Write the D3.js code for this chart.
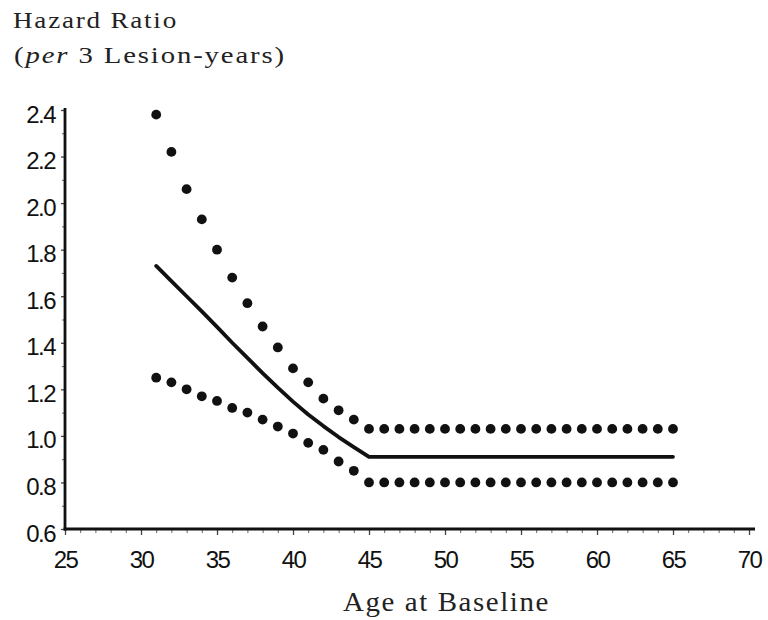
<!DOCTYPE html>
<html>
<head>
<meta charset="utf-8">
<script src="https://cdn.jsdelivr.net/npm/d3@7"></script>
<style>
  body { margin: 0; background: #fff; }
  svg { display: block; }
</style>
</head>
<body>
<div id="chart"></div>
<script>
// values
const ages = [31, 32, 33, 34, 35, 36, 37, 38, 39, 40, 41, 42, 43, 44, 45,
  46, 47, 48, 49, 50, 51, 52, 53, 54, 55, 56, 57, 58, 59, 60, 61, 62, 63, 64, 65];
const hazard = [1.73, 1.665, 1.60, 1.535, 1.468, 1.40, 1.335, 1.27, 1.207, 1.147, 1.092, 1.042, 0.995, 0.952, 0.91,
  0.91, 0.91, 0.91, 0.91, 0.91, 0.91, 0.91, 0.91, 0.91, 0.91, 0.91, 0.91, 0.91, 0.91, 0.91, 0.91, 0.91, 0.91, 0.91, 0.91];
const upper = [2.38, 2.22, 2.06, 1.93, 1.80, 1.68, 1.57, 1.47, 1.38, 1.29, 1.23, 1.16, 1.11, 1.07, 1.03,
  1.03, 1.03, 1.03, 1.03, 1.03, 1.03, 1.03, 1.03, 1.03, 1.03, 1.03, 1.03, 1.03, 1.03, 1.03, 1.03, 1.03, 1.03, 1.03, 1.03];
const lower = [1.25, 1.23, 1.20, 1.17, 1.15, 1.12, 1.10, 1.07, 1.04, 1.01, 0.97, 0.94, 0.89, 0.85, 0.80,
  0.80, 0.80, 0.80, 0.80, 0.80, 0.80, 0.80, 0.80, 0.80, 0.80, 0.80, 0.80, 0.80, 0.80, 0.80, 0.80, 0.80, 0.80, 0.80, 0.80];
const xTicks = [25, 30, 35, 40, 45, 50, 55, 60, 65, 70];
const yTicks = [0.6, 0.8, 1.0, 1.2, 1.4, 1.6, 1.8, 2.0, 2.2, 2.4];

const width = 768, height = 620;
const ink = '#111';

const svg = d3.select('#chart').append('svg')
  .attr('width', width)
  .attr('height', height);

const x = d3.scaleLinear().domain([25, 70]).range([65, 749]);
const y = d3.scaleLinear().domain([0.6, 2.4]).range([529, 110]);

// minor ticks (every year / every 0.1)
const xMinor = d3.range(25, 71, 1).filter(v => v % 5 !== 0);
const yMinor = d3.range(0.7, 2.4, 0.2);

svg.append('g')
  .attr('transform', `translate(0,${y(0.6)})`)
  .call(d3.axisBottom(x).tickValues(xMinor).tickSize(4).tickFormat(''))
  .call(g => g.select('.domain').remove())
  .call(g => g.selectAll('line').attr('stroke', '#666').attr('stroke-width', 1));

svg.append('g')
  .attr('transform', `translate(${x(25)},0)`)
  .call(d3.axisLeft(y).tickValues(yMinor).tickSize(3).tickFormat(''))
  .call(g => g.select('.domain').remove())
  .call(g => g.selectAll('line').attr('stroke', '#666').attr('stroke-width', 1));

const sans = '"Liberation Sans", Arial, sans-serif';

// x axis
const xAxis = svg.append('g')
  .attr('transform', `translate(0,${y(0.6)})`)
  .call(d3.axisBottom(x).tickValues(xTicks).tickSize(6).tickPadding(16).tickFormat(d3.format('d')));
xAxis.select('.domain').remove();
xAxis.selectAll('line').attr('stroke', '#444').attr('stroke-width', 1.3);
xAxis.selectAll('text')
  .attr('fill', ink)
  .style('font-family', sans)
  .style('font-size', '24px')
  .style('letter-spacing', '-1.5px');
xAxis.append('line')
  .attr('x1', x(25) - 1.4).attr('x2', 755)
  .attr('stroke', ink).attr('stroke-width', 2.8);

// y axis
const yAxis = svg.append('g')
  .attr('transform', `translate(${x(25)},0)`)
  .call(d3.axisLeft(y).tickValues(yTicks).tickSize(4).tickPadding(6).tickFormat(d3.format('.1f')));
yAxis.select('.domain').remove();
yAxis.selectAll('line').attr('stroke', '#444').attr('stroke-width', 1.3);
yAxis.selectAll('text')
  .attr('fill', ink)
  .attr('dy', '0.5em')
  .style('font-family', sans)
  .style('font-size', '24px')
  .style('letter-spacing', '-1.5px');
yAxis.append('line')
  .attr('y1', y(2.4) - 2).attr('y2', y(0.6) + 1.4)
  .attr('stroke', ink).attr('stroke-width', 2.8);

// estimate line
const rows = ages.map((a, i) => ({age: a, hr: hazard[i], hi: upper[i], lo: lower[i]}));

svg.append('path')
  .datum(rows)
  .attr('fill', 'none')
  .attr('stroke', ink)
  .attr('stroke-width', 3.8)
  .attr('stroke-linejoin', 'round')
  .attr('stroke-linecap', 'round')
  .attr('d', d3.line().x(d => x(d.age)).y(d => y(d.hr)));

// confidence bounds as dots
['hi', 'lo'].forEach(k => {
  svg.append('g').selectAll('circle')
    .data(rows)
    .enter()
    .append('circle')
    .attr('cx', d => x(d.age))
    .attr('cy', d => y(d[k]))
    .attr('r', 4.9)
    .attr('fill', ink);
});

// titles
const serif = '"Liberation Serif", "Times New Roman", serif';
svg.append('text')
  .attr('x', 13).attr('y', 28)
  .attr('textLength', 165).attr('lengthAdjust', 'spacingAndGlyphs')
  .attr('fill', '#222')
  .style('font-family', serif).style('font-size', '23px')
  .style('letter-spacing', '1.5px')
  .text('Hazard Ratio');

const sub = svg.append('text')
  .attr('x', 14).attr('y', 63)
  .attr('textLength', 272).attr('lengthAdjust', 'spacingAndGlyphs')
  .attr('fill', '#222')
  .style('font-family', serif).style('font-size', '23px')
  .style('letter-spacing', '1.5px');
sub.append('tspan').text('(');
sub.append('tspan').style('font-style', 'italic').text('per');
sub.append('tspan').text(' 3 Lesion-years)');

svg.append('text')
  .attr('x', 343).attr('y', 611)
  .attr('textLength', 207).attr('lengthAdjust', 'spacingAndGlyphs')
  .attr('fill', '#222')
  .style('font-family', serif).style('font-size', '27px')
  .style('letter-spacing', '1.5px')
  .text('Age at Baseline');
</script>
</body>
</html>
